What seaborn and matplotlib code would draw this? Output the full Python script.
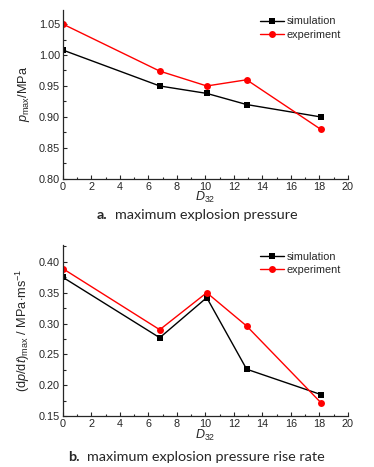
import numpy as np
import pandas as pd
import matplotlib
matplotlib.use('Agg')
import matplotlib.pyplot as plt
from matplotlib.ticker import MultipleLocator
import seaborn as sns

d32 = [0, 6.8, 10.1, 12.9, 18.1]
pmax_sim = [1.008, 0.950, 0.938, 0.920, 0.900]
pmax_exp = [1.050, 0.974, 0.950, 0.960, 0.880]
rate_sim = [0.375, 0.277, 0.342, 0.226, 0.185]
rate_exp = [0.389, 0.290, 0.350, 0.296, 0.172]

sns.set_style('ticks')
plt.rcParams['font.family'] = ['Liberation Sans', 'DejaVu Sans']
plt.rcParams['mathtext.fontset'] = 'custom'
plt.rcParams['mathtext.rm'] = 'Liberation Sans'
plt.rcParams['mathtext.it'] = 'Liberation Sans:italic'
plt.rcParams['xtick.direction'] = 'in'
plt.rcParams['ytick.direction'] = 'in'

fig = plt.figure(figsize=(3.74, 4.67), dpi=100)
ax1 = fig.add_axes([0.168, 0.617, 0.762, 0.362])
ax2 = fig.add_axes([0.168, 0.109, 0.762, 0.366])


def draw(ax, sim, exp, ylim, ylabel):
    df = pd.DataFrame({'D32': d32 * 2,
                       'val': sim + exp,
                       'kind': ['simulation'] * 5 + ['experiment'] * 5})
    sns.lineplot(data=df[df.kind == 'simulation'], x='D32', y='val', ax=ax,
                 color='black', marker='s', markersize=4.5, markeredgewidth=0,
                 linewidth=1, label='simulation')
    sns.lineplot(data=df[df.kind == 'experiment'], x='D32', y='val', ax=ax,
                 color='#ff0000', marker='o', markersize=5, markeredgewidth=0,
                 linewidth=1, label='experiment')
    ax.set_xlim(0, 20)
    ax.set_ylim(*ylim)
    ax.xaxis.set_major_locator(MultipleLocator(2))
    ax.xaxis.set_minor_locator(MultipleLocator(1))
    ax.yaxis.set_major_locator(MultipleLocator(0.05))
    ax.yaxis.set_minor_locator(MultipleLocator(0.025))
    ax.tick_params(which='major', length=3, width=0.8, labelsize=7.8, pad=2)
    ax.tick_params(which='minor', length=1.8, width=0.8)
    ax.yaxis.set_major_formatter(matplotlib.ticker.FormatStrFormatter('%.2f'))
    for s in ['top', 'right']:
        ax.spines[s].set_visible(False)
    for s in ['left', 'bottom']:
        ax.spines[s].set_linewidth(0.9)
    ax.set_xlabel(r'$\it{D}_{\rm 32}$', fontsize=9, labelpad=-1)
    ax.set_ylabel(ylabel, fontsize=9.2, labelpad=5)
    ax.legend(loc='upper right', frameon=False, fontsize=7.8, handlelength=2.2,
              handletextpad=0.3, labelspacing=0.3, borderaxespad=0.2)


draw(ax1, pmax_sim, pmax_exp, (0.8, 1.073), r'$\it{p}_{\rm max}$/MPa')
draw(ax2, rate_sim, rate_exp, (0.15, 0.427),
     r'$({\rm d}\it{p}/{\rm d}\it{t})_{\rm max}$ / MPa$\cdot$ms$^{-1}$')

cap = ['Lato', 'DejaVu Sans']
fig.text(97 / 374, 1 - 215 / 467, 'a.', fontsize=10.4, family=cap, weight='bold',
         ha='left', va='center')
fig.text(115 / 374, 1 - 215 / 467, 'maximum explosion pressure', fontsize=10.4,
         family=cap, ha='left', va='center')
fig.text(68 / 374, 1 - 457 / 467, 'b.', fontsize=10.4, family=cap, weight='bold',
         ha='left', va='center')
fig.text(87 / 374, 1 - 457 / 467, 'maximum explosion pressure rise rate',
         fontsize=10.4, family=cap, ha='left', va='center')

fig.savefig('out.png', dpi=100)
